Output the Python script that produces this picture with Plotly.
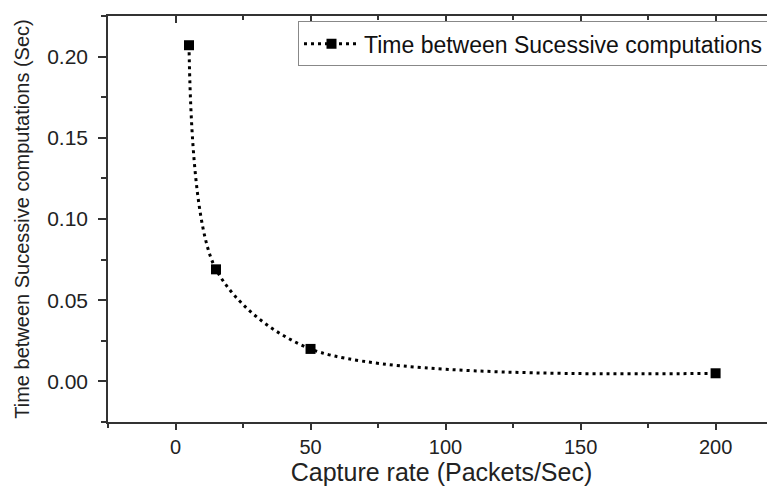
import plotly.graph_objects as go

# Data
capture_rate = [5, 15, 50, 200]                 # Packets/Sec
time_between = [0.207, 0.069, 0.020, 0.005]     # Sec
series_name = "Time between Sucessive computations"
x_ticks = [0, 50, 100, 150, 200]
y_ticks = [0.00, 0.05, 0.10, 0.15, 0.20]
y_tick_labels = ["0.00", "0.05", "0.10", "0.15", "0.20"]

FONT = "Liberation Sans, Arial, sans-serif"
AX = "#333333"

fig = go.Figure()
fig.add_trace(go.Scatter(
    x=capture_rate, y=time_between, name=series_name,
    mode="lines+markers",
    line=dict(color="black", width=3, dash="3px,4px", shape="spline", smoothing=0.85),
    marker=dict(symbol="square", size=10, color="black"),
))
# helper trace for mirrored (inside) ticks on top/right
fig.add_trace(go.Scatter(
    x=capture_rate, y=time_between, xaxis="x2", yaxis="y2",
    mode="markers", marker=dict(opacity=0), showlegend=False, hoverinfo="skip",
))

xr = [-25, 222]
yr = [-0.025, 0.225]

# page body adds an 8px offset, so the figure is 8px smaller and margins compensate
fig.update_layout(
    width=767, height=480,
    margin=dict(l=100, r=0, t=8, b=66, autoexpand=False),
    paper_bgcolor="white", plot_bgcolor="white",
    font=dict(family=FONT, color="#222222"),
    showlegend=True,
    legend=dict(
        x=0.991, y=0.987, xanchor="right", yanchor="top",
        bordercolor="#888888", borderwidth=1, bgcolor="white",
        font=dict(size=23, family=FONT, color="#111111"),
        itemwidth=55, tracegroupgap=0,
    ),
    xaxis=dict(
        range=xr, tickvals=x_ticks, ticks="outside", ticklen=6, tickwidth=1.5,
        tickcolor=AX, showline=True, linecolor=AX, linewidth=1.5, automargin=False,
        showgrid=False, zeroline=False, tickfont=dict(size=20, family=FONT),
        minor=dict(ticks="outside", dtick=25, tick0=0, ticklen=4, tickwidth=1.5, tickcolor=AX, showgrid=False),
        title=dict(text="Capture rate (Packets/Sec)", font=dict(size=25, family=FONT), standoff=7),
    ),
    yaxis=dict(
        range=yr, tickvals=y_ticks, ticktext=y_tick_labels, ticks="outside", ticklen=8,
        tickwidth=1.5, tickcolor=AX, showline=True, linecolor=AX, linewidth=1.5, automargin=False,
        showgrid=False, zeroline=False, tickfont=dict(size=21, family=FONT), ticklabelstandoff=6,
        minor=dict(ticks="outside", dtick=0.025, tick0=0, ticklen=5, tickwidth=1.5, tickcolor=AX, showgrid=False),
        title=dict(text="Time between Sucessive computations (Sec)", font=dict(size=20, family=FONT), standoff=12),
    ),
    xaxis2=dict(
        overlaying="x", side="top", range=xr, tickvals=x_ticks, ticks="inside",
        ticklen=7, tickwidth=1.5, tickcolor=AX, showticklabels=False, automargin=False,
        showline=True, linecolor=AX, linewidth=1.5, showgrid=False, zeroline=False,
        minor=dict(ticks="inside", dtick=25, tick0=0, ticklen=4, tickwidth=1.5, tickcolor=AX, showgrid=False),
    ),
    yaxis2=dict(
        overlaying="y", side="right", range=yr, tickvals=y_ticks, ticks="inside",
        ticklen=4, tickwidth=1.5, tickcolor=AX, showticklabels=False, automargin=False,
        showline=False, showgrid=False, zeroline=False,
    ),
)

fig.write_html("out.html")
